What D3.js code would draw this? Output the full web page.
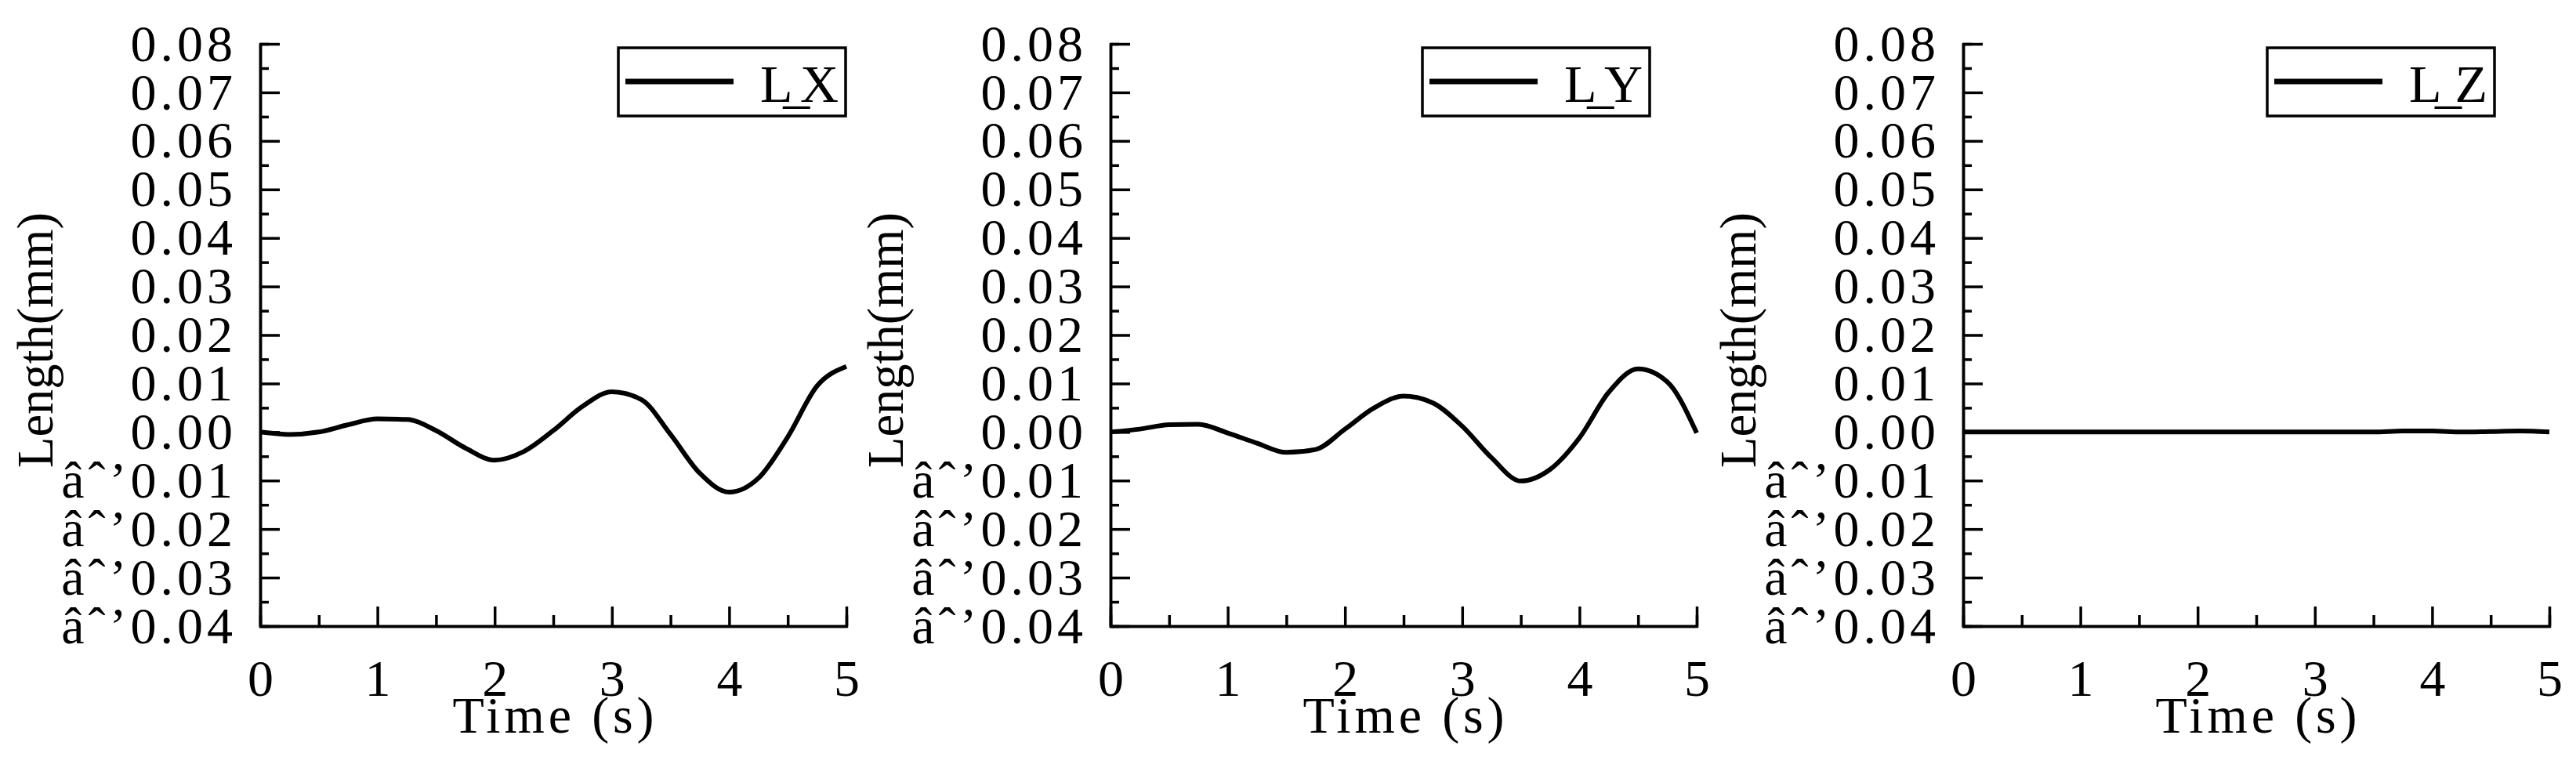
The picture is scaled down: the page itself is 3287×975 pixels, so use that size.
<!DOCTYPE html>
<html>
<head>
<script src="https://d3js.org/d3.v7.min.js"></script>
<style>
body { margin: 0; background: #fff; }
text { font-family: "Liberation Serif", serif; fill: #000; }
</style>
</head>
<body>
<script>
var W = 3287, H = 975;

// time samples (s)
var times = [0, 0.25, 0.5, 0.75, 1.0, 1.25, 1.5, 1.75, 2.0, 2.25, 2.5, 2.75, 3.0, 3.25, 3.5, 3.75, 4.0, 4.25, 4.5, 4.75, 5.0];
// length values (mm)
var lx = [0.0000, -0.0005, 0.0000, 0.0015, 0.0027, 0.0026, 0.0003, -0.0033, -0.0058, -0.0040, 0.0003, 0.0053, 0.0083, 0.0067, -0.0005, -0.0085, -0.0124, -0.0095, -0.0010, 0.0095, 0.0135];
var ly = [0.0000, 0.0006, 0.0015, 0.0016, -0.0002, -0.0023, -0.0042, -0.0036, 0.0006, 0.0050, 0.0074, 0.0060, 0.0012, -0.0053, -0.0101, -0.0077, -0.0012, 0.0082, 0.0130, 0.0103, -0.0002];
var lz = [0, 0, 0, 0, 0, 0, 0, 0, 0, 0, 0, 0, 0, 0, 0, 0.0002, 0.0002, 0, 0.0001, 0.0002, 0];

var seriesNames = ["L_X", "L_Y", "L_Z"];
var seriesData = [lx, ly, lz];
var xTicks = [0, 1, 2, 3, 4, 5];
var yTicks = [-0.04, -0.03, -0.02, -0.01, 0, 0.01, 0.02, 0.03, 0.04, 0.05, 0.06, 0.07, 0.08];

var panelLeft = [332, 1417, 2505];
var legendRight = [1079, 2105, 3183];
var pw = 748, plotTop = 56, plotBottom = 799;

var svg = d3.select("body").append("svg").attr("width", W).attr("height", H);

seriesData.forEach(function(vals, i){
  var x = d3.scaleLinear().domain([0, 5]).range([panelLeft[i], panelLeft[i] + pw]);
  var y = d3.scaleLinear().domain([-0.04, 0.08]).range([plotBottom, plotTop]);
  var g = svg.append("g");

  // minor ticks
  g.append("g").attr("transform", "translate(" + panelLeft[i] + ",0)")
    .call(d3.axisLeft(y).tickValues(d3.range(-0.035, 0.08, 0.01)).tickSize(-11).tickFormat(""));
  g.append("g").attr("transform", "translate(0," + plotBottom + ")")
    .call(d3.axisBottom(x).tickValues([0.5, 1.5, 2.5, 3.5, 4.5]).tickSize(-14).tickFormat(""));

  // major ticks
  var ya = g.append("g").attr("transform", "translate(" + panelLeft[i] + ",0)")
    .call(d3.axisLeft(y).tickValues(yTicks).tickSize(-25).tickSizeOuter(0).tickPadding(30).tickFormat(d3.format(".2f")));
  var xa = g.append("g").attr("transform", "translate(0," + plotBottom + ")")
    .call(d3.axisBottom(x).tickValues(xTicks).tickSize(-25).tickSizeOuter(0).tickPadding(42).tickFormat(d3.format("d")));

  g.selectAll(".domain, .tick line").attr("stroke", "#000").attr("stroke-width", 3.5);
  ya.selectAll("text").attr("font-size", 66).attr("font-family", "Liberation Serif").attr("letter-spacing", 5);
  xa.selectAll("text").attr("font-size", 66).attr("font-family", "Liberation Serif");

  // axis titles
  g.append("text").attr("transform", "translate(" + (panelLeft[i] - 265) + ",434) rotate(-90)")
    .attr("text-anchor", "middle").attr("font-size", 66).attr("textLength", 326).attr("lengthAdjust", "spacingAndGlyphs")
    .text("Length(mm)");
  g.append("text").attr("x", panelLeft[i] + pw / 2).attr("y", 935)
    .attr("text-anchor", "middle").attr("font-size", 66).attr("textLength", 257)
    .text("Time (s)");

  // curve
  var line = d3.line().x(function(d, j){ return x(times[j]); }).y(function(d){ return y(d); }).curve(d3.curveMonotoneX);
  g.append("path").datum(vals).attr("d", line).attr("fill", "none").attr("stroke", "#000").attr("stroke-width", 6);

  // legend
  var lr = legendRight[i];
  g.append("rect").attr("x", lr - 290).attr("y", 61).attr("width", 290).attr("height", 87)
    .attr("fill", "#fff").attr("stroke", "#000").attr("stroke-width", 3.5);
  g.append("line").attr("x1", lr - 281).attr("x2", lr - 143).attr("y1", 104).attr("y2", 104)
    .attr("stroke", "#000").attr("stroke-width", 7);
  g.append("text").attr("x", lr - 109).attr("y", 130).attr("font-size", 68).attr("textLength", 100)
    .text(seriesNames[i]);
});
</script>
</body>
</html>
